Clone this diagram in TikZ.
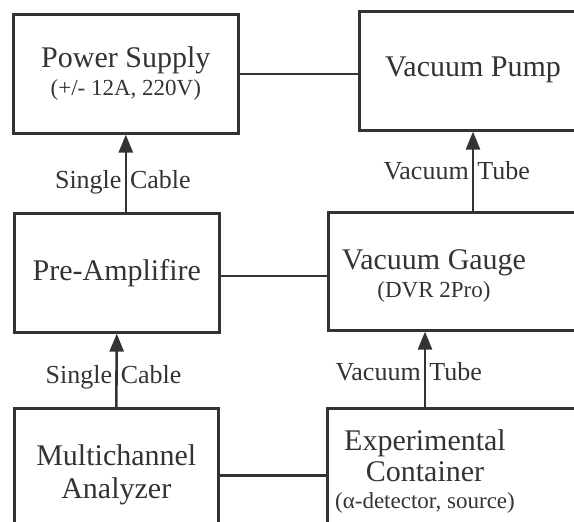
\documentclass[tikz,border=0pt]{standalone}
\usepackage{fontspec}
\setmainfont{Liberation Serif}
\usepackage{xcolor}
\usepackage{tikz}
\usetikzlibrary{
    arrows.meta,
    positioning,
    calc
}
\definecolor{inkgray}{gray}{0.2}
\tikzset{
    unitbox/.style={
        draw=inkgray,
        line width=2.6pt,
        text=inkgray,
        align=center,
        inner sep=0pt,
        font=\fontsize{30}{31}\selectfont
    }
}
\tikzset{
    boxtext/.style={
        text=inkgray,
        align=center,
        inner sep=0pt,
        font=\fontsize{30}{31}\selectfont
    }
}
\tikzset{
    link/.style={
        draw=inkgray,
        line width=2.6pt
    }
}
\tikzset{
    feed/.style={
        link,
        -{Triangle[length=18pt,width=14pt]}
    }
}
\tikzset{
    cablelabel/.style={
        text=inkgray,
        inner xsep=3pt,
        font=\fontsize{26}{28}\selectfont
    }
}
\newcommand{\subline}[1]{{\fontsize{23}{24}\selectfont #1}}

\begin{document}
\begin{tikzpicture}[
    x=1pt,
    y=-1pt
]
\useasboundingbox (0,0) rectangle (574,522);
\clip (0,0) rectangle (574,522);

% =========================================================
% Left column
% =========================================================

\node[unitbox, anchor=north west, minimum width=225pt, minimum height=119pt]
    (ps) at (12,13) {Power Supply\\[-3pt]\subline{(+/- 12A, 220V)}};

\node[unitbox, anchor=north west, minimum width=205pt, minimum height=119pt]
    (pa) at (13,212) {Pre-Amplifire};

\node[unitbox, anchor=north west, minimum width=204pt, minimum height=134pt]
    (mca) at (13,407) {Multichannel\\[2pt]Analyzer};


% =========================================================
% Right column (boxes run past the edge)
% =========================================================

\node[unitbox, anchor=north west, minimum width=240pt, minimum height=119pt]
    (vp) at (358,10) {};
\node[boxtext] (vptext) at (473,69.5) {Vacuum Pump};

\node[unitbox, anchor=north west, minimum width=270pt, minimum height=118pt]
    (vg) at (327,211) {};
\node[boxtext] (vgtext) at (434,276) {Vacuum Gauge\\[-3pt]\subline{(DVR 2Pro)}};

\node[unitbox, anchor=north west, minimum width=270pt, minimum height=134pt]
    (ec) at (326,407) {};
\node[boxtext] (ectext) at (425,472)
    {Experimental\\Container\\[-4pt]\subline{(α-detector, source)}};


% =========================================================
% Connections
% =========================================================

\draw[link] (ps.east) -- (ps.east -| vp.west);
\draw[link] (pa.east |- vgtext) -- (vg.west |- vgtext);
\draw[link] (mca.east) -- (mca.east -| ec.west);

\draw[feed] (pa.north -| ps.south) -- (ps.south)
    node[cablelabel, pos=0.31, anchor=base east] {Single}
    node[cablelabel, pos=0.31, anchor=base west] {Cable};

\draw[feed] (mca.north) -- (pa.south)
    node[cablelabel, pos=0.32, anchor=base east] {Single}
    node[cablelabel, pos=0.32, anchor=base west] {Cable};

\draw[feed] (vg.north -| vptext) -- (vp.south -| vptext)
    node[cablelabel, pos=0.40, anchor=base east] {Vacuum}
    node[cablelabel, pos=0.40, anchor=base west] {Tube};

\draw[feed] (ec.north -| ectext) -- (vg.south -| ectext)
    node[cablelabel, pos=0.35, anchor=base east] {Vacuum}
    node[cablelabel, pos=0.35, anchor=base west] {Tube};

\end{tikzpicture}
\end{document}
